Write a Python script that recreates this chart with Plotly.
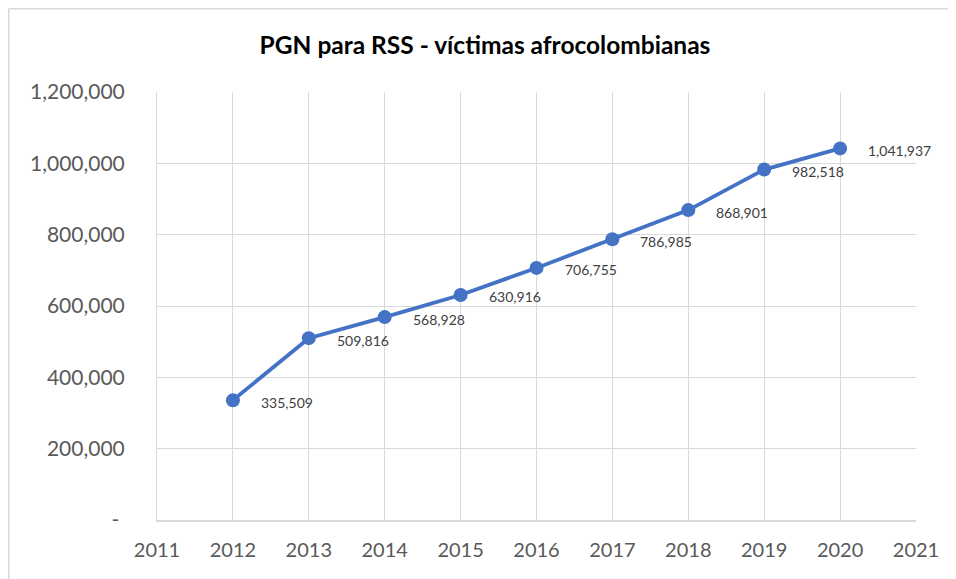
import plotly.graph_objects as go

years = [2012, 2013, 2014, 2015, 2016, 2017, 2018, 2019, 2020]
values = [335509, 509816, 568928, 630916, 706755, 786985, 868901, 982518, 1041937]
x_ticks = list(range(2011, 2022))
y_ticks = [0, 200000, 400000, 600000, 800000, 1000000, 1200000]
y_ticktext = ["-\u00a0"] + [f"{v:,}" for v in y_ticks[1:]]
title_text = "PGN para RSS - víctimas afrocolombianas"

FONT = "Lato, 'Open Sans', sans-serif"
OFF = 8  # page body margin
W, H = 956 - OFF, 579 - OFF
L, R, T, B = 157 - OFF, 40, 92 - OFF, 59
pw, ph = W - L - R, H - T - B

fig = go.Figure()
fig.add_trace(go.Scatter(
    x=years, y=values, mode="lines+markers",
    line=dict(color="#4472C4", width=3.8),
    marker=dict(color="#4472C4", size=14),
    hoverinfo="skip", showlegend=False,
))

for xv, yv in zip(years, values):
    fig.add_annotation(
        x=xv, y=yv, text=f"{yv:,}", showarrow=False,
        xanchor="left", yanchor="middle", xshift=26, yshift=-2,
        font=dict(family=FONT, size=14, color="#404040"),
    )

def px_to_paper_x(px):
    return (px - L) / pw

def px_to_paper_y(py):
    return (H - B - py) / ph

border = dict(color="#D9D9D9", width=1.5)
fig.add_shape(type="line", xref="paper", yref="paper",
              x0=px_to_paper_x(0.75), x1=px_to_paper_x(0.75),
              y0=px_to_paper_y(0.75), y1=px_to_paper_y(620), line=border)
fig.add_shape(type="line", xref="paper", yref="paper",
              x0=px_to_paper_x(0.75), x1=px_to_paper_x(970),
              y0=px_to_paper_y(0.75), y1=px_to_paper_y(0.75), line=border)

fig.update_layout(
    width=W, height=H,
    margin=dict(l=L, r=R, t=T, b=B),
    paper_bgcolor="white", plot_bgcolor="white",
    title=dict(text=f"<b>{title_text}</b>", x=(485 - OFF) / W, xref="container",
               y=1 - (45 - OFF) / H, yref="container", xanchor="center", yanchor="middle",
               font=dict(family=FONT, size=24.5, color="#000000")),
    xaxis=dict(range=[2011, 2021], tickvals=x_ticks, ticktext=[str(t) for t in x_ticks],
               showgrid=True, gridcolor="#D9D9D9", gridwidth=1,
               showline=True, linecolor="#D9D9D9", linewidth=1.5,
               zeroline=False, ticks="", ticklabelstandoff=11,
               tickfont=dict(family=FONT, size=20, color="#595959"), fixedrange=True),
    yaxis=dict(range=[0, 1200000], tickvals=y_ticks, ticktext=y_ticktext,
               showgrid=True, gridcolor="#D9D9D9", gridwidth=1,
               showline=True, linecolor="#D9D9D9", linewidth=1,
               zeroline=False, ticks="", ticklabelstandoff=27,
               tickfont=dict(family=FONT, size=21, color="#595959"), fixedrange=True),
)

fig.write_html("out.html")
